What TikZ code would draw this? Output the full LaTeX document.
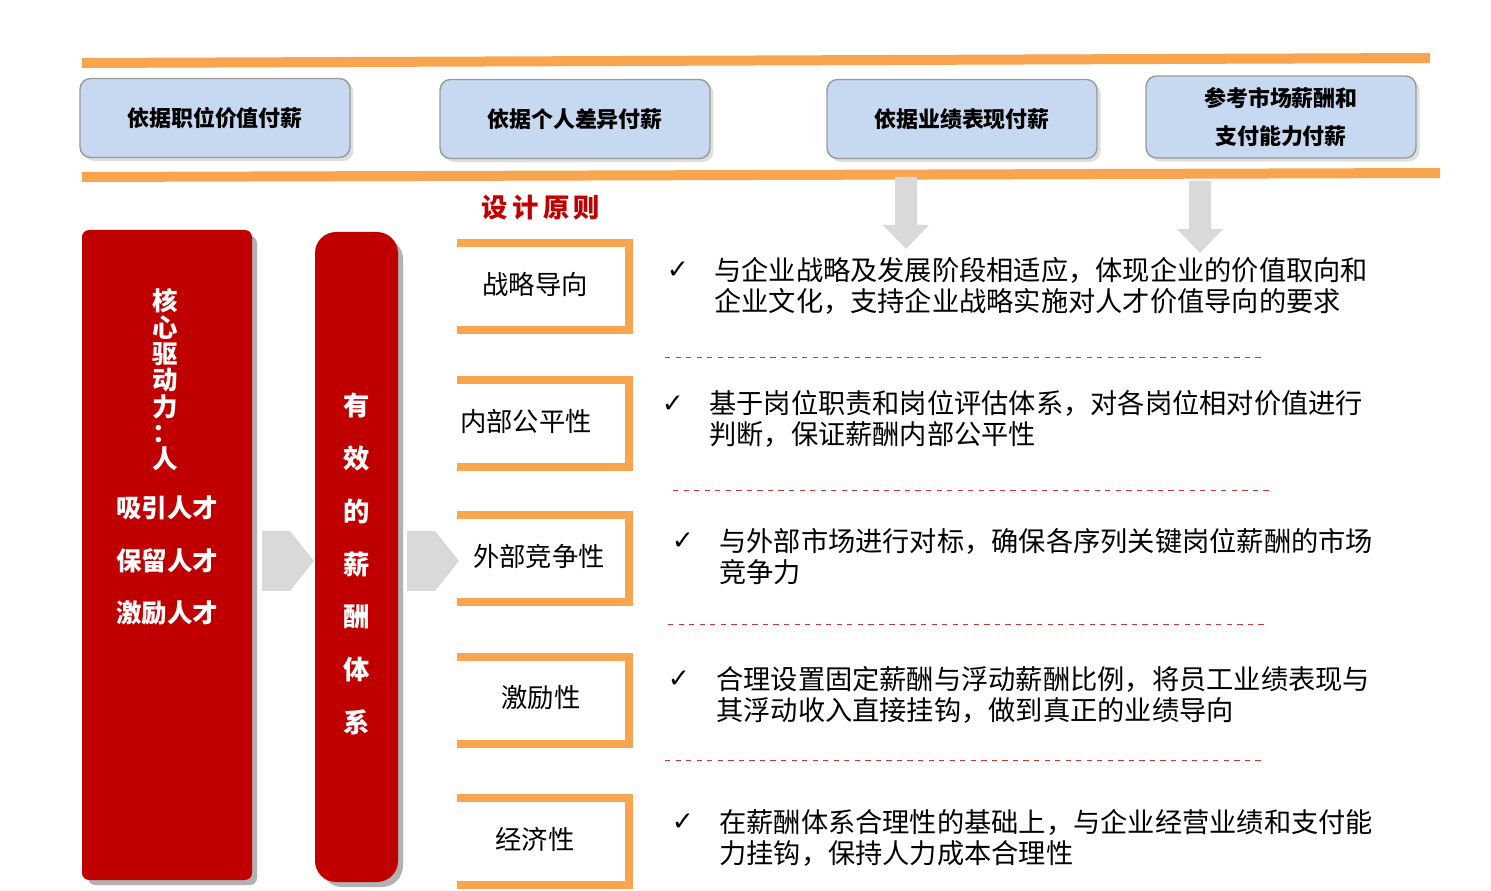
\documentclass[tikz,border=0pt]{standalone}
\usepackage{fontspec}
\setmainfont{Noto Sans CJK SC}
\newfontfamily\symfont{DejaVu Sans}
\usetikzlibrary{positioning, calc, shadows}
\definecolor{barorange}{HTML}{F9A54F}
\definecolor{boxblue}{HTML}{C6D9F1}
\definecolor{deepred}{HTML}{C00000}
\definecolor{arrowgray}{HTML}{D9D9D9}

\begin{document}
\begin{tikzpicture}[x=0.02cm, y=-0.02cm,
				TopBox/.style={rectangle, rounded corners=6pt, draw=gray!80, thick, fill=boxblue, minimum width=5.4cm, minimum height=1.58cm, font=\bfseries\fontsize{12.5}{20}\selectfont, align=center, drop shadow={shadow xshift=2pt, shadow yshift=-2pt, fill=gray!50}},
				RedBox/.style={rectangle, fill=deepred, text=white, font=\bfseries\fontsize{14.5}{18}\selectfont, align=center},
				Bracket/.style={draw=barorange, line width=0.16cm},
				PrincipleText/.style={font=\fontsize{15}{17}\selectfont},
				ItemText/.style={font=\fontsize{15.5}{17.5}\selectfont, align=left, text width=14.2cm, anchor=north west, inner sep=0pt},
				Tick/.style={font=\symfont\fontsize{15}{17}\selectfont},
				Sep/.style={draw=deepred!80, dashed, thin}]

			\useasboundingbox (0,0) rectangle (1491,891);

			% Bars
			\draw[barorange, line width=0.2cm] (82,63) -- (1430,58);
			\draw[barorange, line width=0.2cm] (82,177) -- (1440,173);

			% Top boxes
			\node[TopBox] (PosBox) at (215,118) {依据职位价值付薪};
			\node[TopBox] (IndBox) at (575,119) {依据个人差异付薪};
			\node[TopBox] (PerfBox) at (962,119) {依据业绩表现付薪};
			\node[TopBox, minimum height=1.64cm] (MktBox) at (1281,117) {参考市场薪酬和\\[2pt]支付能力付薪};

			% Down arrows
			\fill[arrowgray] (895,177) -- (917,177) -- (917,225) -- (929,225) -- (906,249) -- (883,225) -- (895,225) -- cycle;
			\fill[arrowgray] (1189,181) -- (1211,181) -- (1211,229) -- (1223,229) -- (1200,253) -- (1177,229) -- (1189,229) -- cycle;

			\node[text=deepred, font=\bfseries\fontsize{15}{17}\selectfont] (Title) at (541,208) {设\,计\,原\,则};

			% Red columns
			\fill[gray!60, rounded corners=4pt] (88,236) rectangle (257,885);
			\fill[deepred, rounded corners=4pt] (82,230) rectangle (252,880);
			\node[RedBox, inner sep=0pt] (Core) at (165,380) {核\\[-3pt]心\\[-3pt]驱\\[-3pt]动\\[-3pt]力\\[-3pt]：\\[-3pt]人};
			\node[RedBox] (Attract) at (167,508) {吸引人才};
			\node[RedBox] (Retain) at (167,561) {保留人才};
			\node[RedBox] (Motiv) at (167,613) {激励人才};

			\fill[gray!60, rounded corners=12pt] (321,238) rectangle (403,887);
			\fill[deepred, rounded corners=12pt] (315,232) rectangle (398,882);
			\node[RedBox, font=\bfseries\fontsize{15}{30}\selectfont] (System) at (357,564) {有\\效\\的\\薪\\酬\\体\\系};

			% Chevrons
			\fill[arrowgray] (262,531) -- (290,531) -- (314,561) -- (290,591) -- (262,591) -- cycle;
			\fill[arrowgray] (407,531) -- (435,531) -- (459,561) -- (435,591) -- (407,591) -- cycle;

			% Principles
			\foreach \top/\name/\txt/\cx in {243/Strat/战略导向/535, 380/Fair/内部公平性/526, 515/Comp/外部竞争性/539, 657/Incent/激励性/541, 798/Econ/经济性/535}{
				\draw[Bracket] (457,\top) -| (629,\top+87) -- (457,\top+87);
				\node[PrincipleText] (\name) at (\cx,\top+41) {\txt};
			}

			% Items
			\node[Tick] (T1) at (678,270) {✓};
			\node[ItemText] (I1) at (714,257) {与企业战略及发展阶段相适应，体现企业的价值取向和\\企业文化，支持企业战略实施对人才价值导向的要求};
			\node[Tick] (T2) at (673,404) {✓};
			\node[ItemText] (I2) at (709,390) {基于岗位职责和岗位评估体系，对各岗位相对价值进行\\判断，保证薪酬内部公平性};
			\node[Tick] (T3) at (683,541) {✓};
			\node[ItemText] (I3) at (719,528) {与外部市场进行对标，确保各序列关键岗位薪酬的市场\\竞争力};
			\node[Tick] (T4) at (679,679) {✓};
			\node[ItemText] (I4) at (716,666) {合理设置固定薪酬与浮动薪酬比例，将员工业绩表现与\\其浮动收入直接挂钩，做到真正的业绩导向};
			\node[Tick] (T5) at (683,822) {✓};
			\node[ItemText] (I5) at (719,809) {在薪酬体系合理性的基础上，与企业经营业绩和支付能\\力挂钩，保持人力成本合理性};

			% Separators
			\draw[Sep] (665,357) -- (1265,357);
			\draw[Sep] (673,490) -- (1272,490);
			\draw[Sep] (668,624) -- (1268,624);
			\draw[Sep] (665,760) -- (1265,760);
		\end{tikzpicture}
\end{document}
